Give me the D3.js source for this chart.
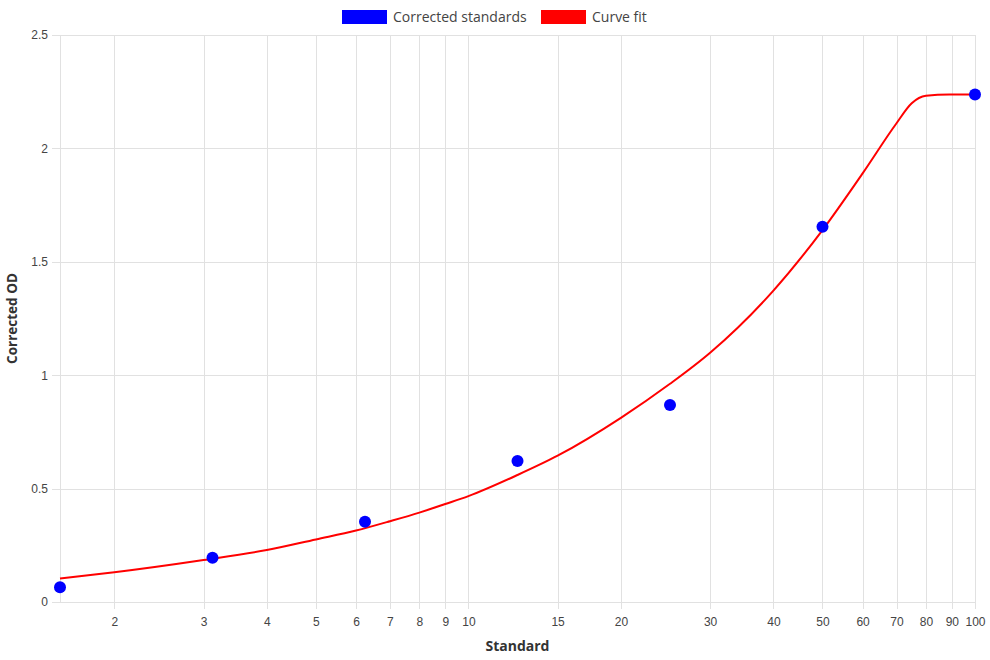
<!DOCTYPE html>
<html>
<head>
<meta charset="utf-8">
<script src="https://cdn.jsdelivr.net/npm/d3@7"></script>
<style>
    body { margin: 0; background: #fff; }
    svg { display: block; }
</style>
</head>
<body>
<svg id="chart" width="990" height="660"></svg>
<script>
// standards (x = concentration, y = corrected OD)
const standardX = [1.5625, 3.125, 6.25, 12.5, 25, 50, 100];
const standardY = [0.065, 0.195, 0.354, 0.622, 0.869, 1.655, 2.238];

// curve fit
const curveX = [1.5625, 2, 3, 4, 5, 6, 7, 8, 9, 10, 12.5, 15, 20, 25, 30, 40, 50, 60, 70, 75, 80, 89, 100];
const curveY = [0.104, 0.131, 0.185, 0.229, 0.276, 0.315, 0.356, 0.394, 0.432, 0.467, 0.56, 0.645, 0.812, 0.962, 1.099, 1.373, 1.64, 1.89, 2.111, 2.199, 2.232, 2.238, 2.238];

const xTicks = [2, 3, 4, 5, 6, 7, 8, 9, 10, 15, 20, 30, 40, 50, 60, 70, 80, 90, 100];
const yTicks = [0, 0.5, 1, 1.5, 2, 2.5];

const legendItems = ["Corrected standards", "Curve fit"];
const legendColors = ["#0000ff", "#ff0000"];

const margin = { top: 35, right: 15, bottom: 58, left: 60 };
const width = 990, height = 660;
const gridColor = "#e1e1e1";
const tickFont = "'Liberation Sans', Arial, sans-serif";
const labelFont = "'Open Sans', 'Noto Sans', sans-serif";

const svg = d3.select("#chart");

const x = d3.scaleLog()
    .domain([1.5625, 100])
    .range([margin.left, width - margin.right]);
const y = d3.scaleLinear()
    .domain([0, 2.5])
    .range([height - margin.bottom, margin.top]);

// grid
const grid = svg.append("g");
grid.selectAll(".vx")
    .data(xTicks)
    .join("line")
        .attr("x1", d => Math.round(x(d)) + 0.5)
        .attr("x2", d => Math.round(x(d)) + 0.5)
        .attr("y1", margin.top)
        .attr("y2", height - margin.bottom + 7)
        .attr("stroke", gridColor);
grid.selectAll(".hy")
    .data(yTicks)
    .join("line")
        .attr("x1", margin.left - 8)
        .attr("x2", width - margin.right)
        .attr("y1", d => Math.round(y(d)) + 0.5)
        .attr("y2", d => Math.round(y(d)) + 0.5)
        .attr("stroke", gridColor);
// left border
grid.append("line")
    .attr("x1", margin.left + 0.5).attr("x2", margin.left + 0.5)
    .attr("y1", margin.top).attr("y2", height - margin.bottom)
    .attr("stroke", gridColor);

// axes
const xAxis = svg.append("g")
    .attr("transform", `translate(0,${height - margin.bottom})`)
    .call(d3.axisBottom(x).tickValues(xTicks).tickFormat(d3.format("d")).tickSize(0).tickPadding(15))
    .call(g => g.select(".domain").remove());
xAxis.selectAll("text")
    .style("font-family", tickFont)
    .style("font-size", "12px")
    .attr("fill", "#444");

const yAxis = svg.append("g")
    .attr("transform", `translate(${margin.left},0)`)
    .call(d3.axisLeft(y).tickValues(yTicks).tickFormat(d => d).tickSize(0).tickPadding(12))
    .call(g => g.select(".domain").remove());
yAxis.selectAll("text")
    .style("font-family", tickFont)
    .style("font-size", "12px")
    .attr("fill", "#444");

// axis titles
svg.append("text")
    .attr("x", (margin.left + width - margin.right) / 2)
    .attr("y", 651)
    .attr("text-anchor", "middle")
    .style("font-family", labelFont)
    .style("font-size", "14px")
    .style("font-weight", "bold")
    .attr("fill", "#333")
    .text("Standard");

svg.append("text")
    .attr("transform", `translate(17,${(margin.top + height - margin.bottom) / 2}) rotate(-90)`)
    .attr("text-anchor", "middle")
    .style("font-family", labelFont)
    .style("font-size", "13.5px")
    .style("font-weight", "bold")
    .attr("fill", "#333")
    .text("Corrected OD");

// curve
const curveData = curveX.map((d, i) => [d, curveY[i]]);
svg.append("path")
    .datum(curveData)
    .attr("fill", "none")
    .attr("stroke", "#ff0000")
    .attr("stroke-width", 2)
    .attr("d", d3.line()
        .x(d => x(d[0]))
        .y(d => y(d[1]))
        .curve(d3.curveMonotoneX));

// points
svg.append("g")
    .selectAll("circle")
    .data(standardX.map((d, i) => [d, standardY[i]]))
    .join("circle")
        .attr("cx", d => x(d[0]))
        .attr("cy", d => y(d[1]))
        .attr("r", 6)
        .attr("fill", "#0000ff");

// legend
const legend = svg.append("g").attr("transform", "translate(342,10)");
const legendOffsets = [0, 199];
legendItems.forEach((name, i) => {
    const item = legend.append("g").attr("transform", `translate(${legendOffsets[i]},0)`);
    item.append("rect")
        .attr("width", 45)
        .attr("height", 14)
        .attr("fill", legendColors[i]);
    item.append("text")
        .attr("x", 51)
        .attr("y", 12)
        .style("font-family", labelFont)
        .style("font-size", "14px")
        .attr("fill", "#444")
        .text(name);
});
</script>
</body>
</html>
